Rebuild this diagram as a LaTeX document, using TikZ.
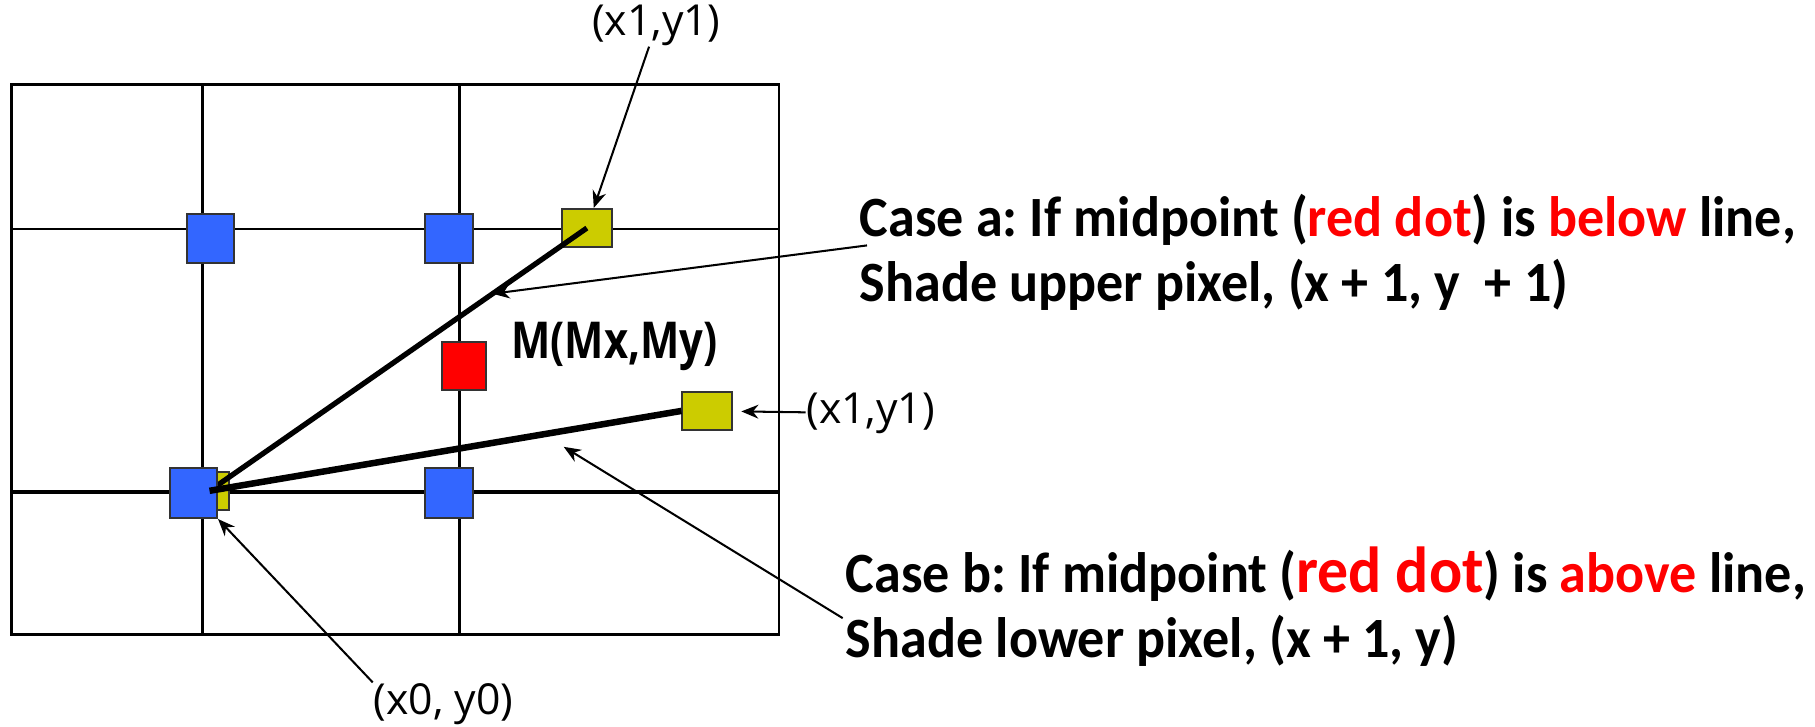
\documentclass[tikz,border=0pt]{standalone}
\usepackage{fontspec}
\usepackage{xcolor}
\usetikzlibrary{positioning,arrows.meta}
\setmainfont{Carlito}
\newfontfamily\casefont[FakeStretch=0.95]{Carlito}
\newfontfamily\coordfont{Open Sans}
\newfontfamily\midfont[FakeStretch=0.82]{Open Sans}
\definecolor{pixblue}{HTML}{3366FF}
\definecolor{pixyellow}{HTML}{CCCC00}
\frenchspacing

\begin{document}
\begin{tikzpicture}[
  gridline/.style={line width=0.6pt},
  pixel/.style={
    draw=black!80,
    line width=0.5pt,
    inner sep=0pt,
    minimum width=0.41cm,
    minimum height=0.43cm
  },
  bluepix/.style={pixel, fill=pixblue},
  endpix/.style={pixel, fill=pixyellow, minimum width=0.43cm, minimum height=0.33cm},
  midpix/.style={pixel, fill=red, minimum width=0.38cm, minimum height=0.41cm},
  raster/.style={line width=1.3pt},
  arrow/.style={-{Stealth[length=4.2pt,width=3.4pt]}, line width=0.5pt},
  coordlabel/.style={font=\coordfont\fontsize{10.5}{12}\selectfont, inner sep=0pt},
  casetext/.style={
    align=left,
    anchor=west,
    inner sep=0pt,
    font=\casefont\bfseries\fontsize{14}{16}\selectfont
  }
]
  \useasboundingbox (0,0) rectangle (15.68,-6.28);

  % grid
  \draw[gridline] (0.10,-0.73) rectangle (6.73,-5.48);
  \draw[gridline] (1.75,-0.73) -- (1.75,-5.48);
  \draw[gridline] (3.97,-0.73) -- (3.97,-5.48);
  \draw[gridline] (0.10,-1.98) -- (6.73,-1.98);
  \draw[gridline, line width=1pt] (0.10,-4.25) -- (6.73,-4.25);

  % pixels
  \coordinate (p0) at (1.81,-4.24);
  \node[endpix, minimum width=0.14cm] (ysmall) at (1.91,-4.24) {};
  \node[endpix] (ya) at (5.07,-1.97) {};
  \node[endpix] (yb) at (6.11,-3.55) {};
  \draw[raster] (p0) -- (ya.center) coordinate[pos=0.75] (onA);
  \node[bluepix] (b10) at (1.82,-2.06) {};
  \node[bluepix] (b11) at (3.88,-2.06) {};
  \node[bluepix] (b00) at (1.67,-4.26) {};
  \node[bluepix] (b01) at (3.88,-4.26) {};
  \node[midpix] (mid) at (4.01,-3.16) {};
  \draw[raster, line width=1.6pt] (p0) -- (yb.west);

  % labels
  \node[font=\midfont\bfseries\fontsize{12.5}{14}\selectfont, anchor=west, inner sep=0pt] (mlabel) at (4.41,-2.99) {M(Mx,My)};
  \node[coordlabel] (topend) at (5.67,-0.22) {(x1,y1)};
  \node[coordlabel, anchor=west] (sideend) at (6.96,-3.57) {(x1,y1)};
  \node[coordlabel] (start) at (3.83,-6.08) {(x0, y0)};

  \node[casetext] (casea) at (7.42,-2.18) {Case a: If midpoint (\textcolor{red}{red dot}) is \textcolor{red}{below} line,\\Shade upper pixel, (x + 1, y\ \ + 1)};
  \node[casetext] (caseb) at (7.30,-5.24) {Case b: If midpoint ({\fontsize{16}{16}\selectfont\textcolor{red}{red dot}}) is \textcolor{red}{above} line,\\Shade lower pixel, (x + 1, y)};
  \coordinate (atail) at (7.49,-2.12);
  \coordinate (btail) at (7.28,-5.34);
  \coordinate (below) at (4.87,-3.86);

  % arrows
  \draw[arrow] (topend) -- (ya) ;
  \draw[arrow, shorten >=2pt] (sideend) -- (yb);
  \draw[arrow] (start.north west) -- (b00.south east);
  \draw[arrow] (atail) -- (onA);
  \draw[arrow] (btail) -- (below);
\end{tikzpicture}
\end{document}
